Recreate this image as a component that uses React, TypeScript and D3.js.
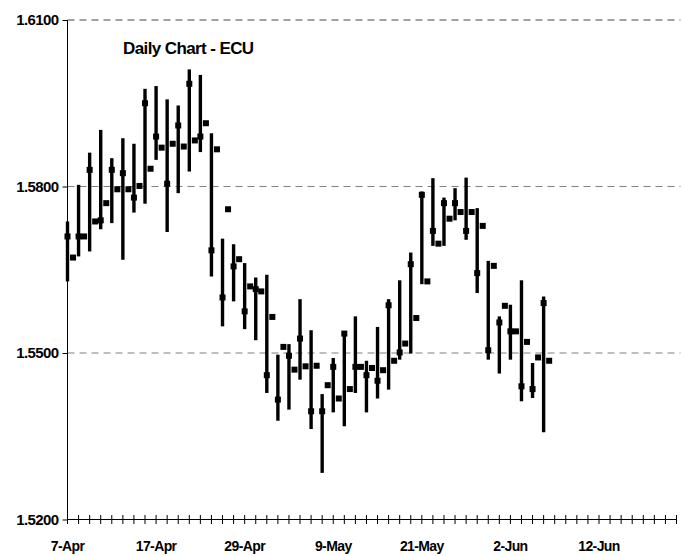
import React, { useEffect, useRef } from "react";
import * as d3 from "d3";

// Trading days on the category axis (weekdays, 7-Apr .. 23-Jun)
const dates = [
  "7-Apr", "8-Apr", "9-Apr", "10-Apr", "11-Apr", "14-Apr", "15-Apr", "16-Apr",
  "17-Apr", "18-Apr", "21-Apr", "22-Apr", "23-Apr", "24-Apr", "25-Apr", "28-Apr",
  "29-Apr", "30-Apr", "1-May", "2-May", "5-May", "6-May", "7-May", "8-May",
  "9-May", "12-May", "13-May", "14-May", "15-May", "16-May", "19-May", "20-May",
  "21-May", "22-May", "23-May", "26-May", "27-May", "28-May", "29-May", "30-May",
  "2-Jun", "3-Jun", "4-Jun", "5-Jun", "6-Jun", "9-Jun", "10-Jun", "11-Jun",
  "12-Jun", "13-Jun", "16-Jun", "17-Jun", "18-Jun", "19-Jun", "20-Jun", "23-Jun",
];

const labelledDates = ["7-Apr", "17-Apr", "29-Apr", "9-May", "21-May", "2-Jun", "12-Jun"];

const high = [
  1.5737, 1.5803, 1.5861, 1.5902, 1.5851, 1.5887, 1.5877, 1.5976, 1.5981, 1.5957,
  1.5946, 1.6011, 1.6001, 1.5896, 1.5706, 1.5696, 1.5662, 1.5636, 1.5641, 1.5497,
  1.5516, 1.5597, 1.5541, 1.5426, 1.5491, 1.5539, 1.5566, 1.5486, 1.5547, 1.5597,
  1.5631, 1.5681, 1.5791, 1.5815, 1.578, 1.5797, 1.5816, 1.5761, 1.5666, 1.5566,
  1.5587, 1.5631, 1.5482, 1.5602,
];

const low = [
  1.5629, 1.5674, 1.5683, 1.5723, 1.5734, 1.5668, 1.5753, 1.5769, 1.5848, 1.5718,
  1.5788, 1.5827, 1.5862, 1.5638, 1.5548, 1.5593, 1.5543, 1.5523, 1.5428, 1.5378,
  1.5398, 1.5452, 1.5363, 1.5284, 1.5393, 1.5368, 1.5428, 1.5393, 1.5418, 1.5434,
  1.5488, 1.5499, 1.5624, 1.5693, 1.5693, 1.5739, 1.5704, 1.5608, 1.5488, 1.5463,
  1.5488, 1.5413, 1.5419, 1.5357,
];

// square sitting on the bar
const open = [
  1.571, 1.571, 1.583, 1.5739, 1.583, 1.5824, 1.578, 1.595, 1.589, 1.5805,
  1.591, 1.5985, 1.589, 1.5685, 1.56, 1.5656, 1.5575, 1.5615, 1.546, 1.5416,
  1.5495, 1.5526, 1.5395, 1.5395, 1.5475, 1.5535, 1.5475, 1.546, 1.545, 1.5586,
  1.5501, 1.566, 1.5785, 1.572, 1.577, 1.577, 1.572, 1.5644, 1.5505, 1.5555,
  1.5539, 1.544, 1.5435, 1.559,
];

// square drawn half a day to the right
const close = [
  1.5672, 1.571, 1.5737, 1.577, 1.5795, 1.5795, 1.5801, 1.5832, 1.587, 1.5877,
  1.5872, 1.5883, 1.5914, 1.5867, 1.5759, 1.5669, 1.562, 1.5611, 1.5565, 1.5511,
  1.547, 1.5476, 1.5477, 1.5442, 1.5418, 1.5435, 1.5475, 1.5473, 1.5469, 1.5486,
  1.5517, 1.5563, 1.5629, 1.5697, 1.5742, 1.5754, 1.5754, 1.5729, 1.5657, 1.5585,
  1.5539, 1.552, 1.5492, 1.5486,
];

const yTicks = [1.52, 1.55, 1.58, 1.61];

const App: React.FC = () => {
  const svgRef = useRef<SVGSVGElement>(null);
  const width = 684;
  const height = 556;

  useEffect(() => {
    if (!svgRef.current) return;
    const svg = d3.select(svgRef.current);
    svg.selectAll("*").remove();

    const font = "'Liberation Sans', Arial, sans-serif";
    const left = 67.5;
    const right = 676.5;
    const top = 20;
    const bottom = 519.5;

    const x = d3.scalePoint<string>().domain(dates).range([left, right]).padding(0);
    const y = d3.scaleLinear().domain([1.52, 1.61]).range([bottom, top]);
    const step = x.step();

    // dashed gridlines
    svg
      .append("g")
      .selectAll("line")
      .data(yTicks.filter((t) => t > 1.52))
      .enter()
      .append("line")
      .attr("x1", left)
      .attr("x2", right + 4)
      .attr("y1", (d) => y(d))
      .attr("y2", (d) => y(d))
      .attr("stroke", (d) => (d === 1.61 ? "#444" : "#808080"))
      .attr("stroke-width", 1)
      .attr("stroke-dasharray", "7,5");

    // y axis
    const yAxis = svg
      .append("g")
      .attr("transform", `translate(${left},0)`)
      .call(
        d3
          .axisLeft(y)
          .tickValues(yTicks)
          .tickSize(5)
          .tickPadding(4)
          .tickFormat((d) => d3.format(".4f")(Number(d)))
      );
    yAxis.select(".domain").attr("stroke", "#000").attr("d", `M0,${top}V${bottom}`);
    yAxis.selectAll("line").attr("stroke", "#000");
    yAxis
      .selectAll("text")
      .attr("fill", "#000")
      .attr("font-family", font)
      .attr("font-weight", "bold")
      .attr("font-size", "15px")
      .attr("letter-spacing", "-0.6px");

    // x axis with cross ticks
    const xAxis = svg.append("g");
    xAxis
      .append("line")
      .attr("x1", left)
      .attr("x2", right)
      .attr("y1", bottom)
      .attr("y2", bottom)
      .attr("stroke", "#000");
    xAxis
      .selectAll("line.tick")
      .data(dates)
      .enter()
      .append("line")
      .attr("class", "tick")
      .attr("x1", (d) => x(d) || 0)
      .attr("x2", (d) => x(d) || 0)
      .attr("y1", bottom - 4.5)
      .attr("y2", bottom + 4.5)
      .attr("stroke", "#000");
    xAxis
      .selectAll("text")
      .data(labelledDates)
      .enter()
      .append("text")
      .attr("x", (d) => x(d) || 0)
      .attr("y", 551)
      .attr("text-anchor", "middle")
      .attr("fill", "#000")
      .attr("font-family", font)
      .attr("font-weight", "bold")
      .attr("font-size", "14px")
      .attr("letter-spacing", "-0.6px")
      .text((d) => d);

    const days = high.map((_, i) => i);

    // high-low bars
    svg
      .append("g")
      .selectAll("line")
      .data(days)
      .enter()
      .append("line")
      .attr("x1", (i) => x(dates[i]) || 0)
      .attr("x2", (i) => x(dates[i]) || 0)
      .attr("y1", (i) => y(high[i]))
      .attr("y2", (i) => y(low[i]))
      .attr("stroke", "#000")
      .attr("stroke-width", 3.4);

    const sq = 6;
    svg
      .append("g")
      .selectAll("rect")
      .data(days)
      .enter()
      .append("rect")
      .attr("x", (i) => (x(dates[i]) || 0) - sq / 2)
      .attr("y", (i) => y(open[i]) - sq / 2)
      .attr("width", sq)
      .attr("height", sq)
      .attr("fill", "#000");

    svg
      .append("g")
      .selectAll("rect")
      .data(days)
      .enter()
      .append("rect")
      .attr("x", (i) => (x(dates[i]) || 0) + step / 2 - sq / 2)
      .attr("y", (i) => y(close[i]) - sq / 2)
      .attr("width", sq)
      .attr("height", sq)
      .attr("fill", "#000");

    // title
    svg
      .append("text")
      .attr("x", 123)
      .attr("y", 54)
      .attr("fill", "#000")
      .attr("font-family", font)
      .attr("font-weight", "bold")
      .attr("font-size", "17px")
      .attr("letter-spacing", "-0.6px")
      .text("Daily Chart - ECU");
  }, []);

  return (
    <svg
      ref={svgRef}
      width={width}
      height={height}
      style={{ position: "absolute", left: 0, top: 0, background: "#fff" }}
    />
  );
};

export default App;
